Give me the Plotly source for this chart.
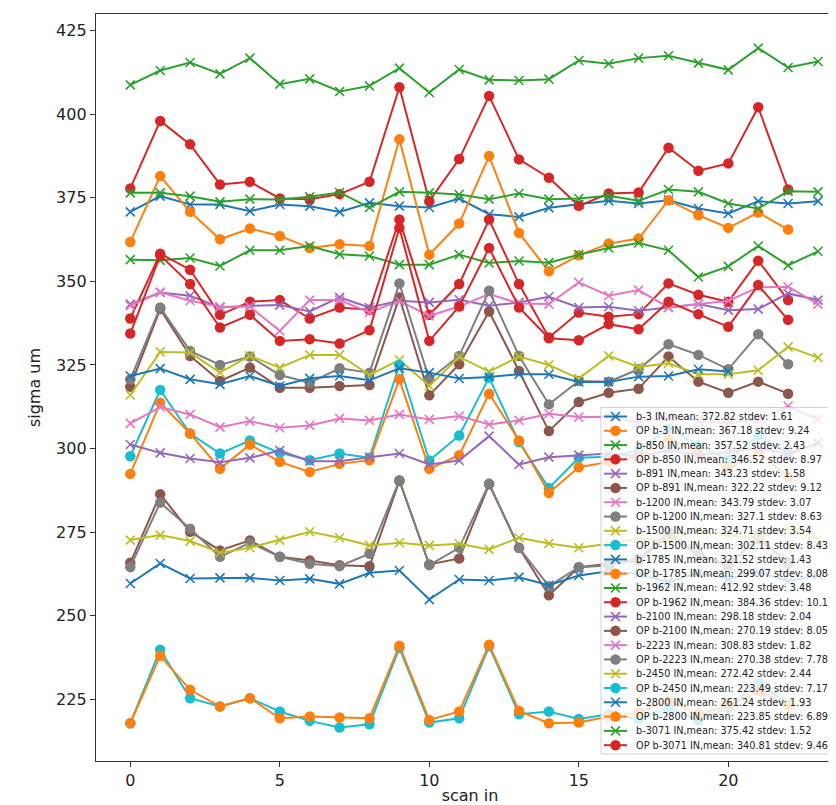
import plotly.graph_objects as go

# ---------------- data ----------------
x_tick_vals = [0, 5, 10, 15, 20]
y_tick_vals = [225, 250, 275, 300, 325, 350, 375, 400, 425]

b_3 = [370.8, 375.5, 373, 373, 371, 373, 372.5, 370.8, 373.5, 372.5, 372.1, 374.8,
       370.1, 369.3, 372, 373, 374.1, 373.3, 374.3, 371.8, 370.3, 374, 373.3, 374]
op_b_3 = [361.8, 381.5, 370.8, 362.6, 365.8, 363.6, 360, 361.1, 360.6, 392.5, 358, 367.3,
          387.5, 364.5, 353, 357.8, 361.3, 362.8, 374.3, 369.8, 366, 370.6, 365.5]
b_850 = [356.5, 356.3, 357, 354.6, 359.3, 359.3, 360.6, 358.1, 357.6, 355, 355, 358,
         355.5, 356.1, 355.6, 358, 360, 361.5, 359.3, 351.3, 354.5, 360.6, 354.8, 359]
op_b_850 = [338.9, 358.3, 353.5, 340, 343.9, 344.4, 338.9, 342.2, 341.5, 368.5, 340, 349.2,
            368.5, 349.2, 333.2, 340.7, 339.4, 340.2, 349.4, 346, 343.9, 356.2, 344.4]
b_891 = [343.2, 346.7, 345.7, 342.2, 342.7, 342.9, 341, 345.2, 342.2, 344.2, 343.7, 344.5,
         342.7, 343.7, 345.4, 342.2, 342.4, 341.2, 342.2, 343.2, 341.4, 341.7, 346.4, 344.4]
op_b_891 = [318.5, 341.7, 327.7, 320.2, 324.2, 318.2, 318.2, 318.7, 319, 345.2, 315.9, 325.2,
            341, 323.2, 305.2, 313.9, 316.7, 317.9, 327.5, 320, 316.7, 320, 316.4]
b_1200 = [342.7, 346.7, 344.2, 342.4, 342.4, 335.2, 344.4, 344.4, 340.7, 344.2, 339.7, 342.5,
          346.2, 343.4, 343.2, 349.7, 345.7, 347.4, 342.2, 343.2, 344.2, 348.2, 348.4, 343.2]
op_b_1200 = [320.7, 342.2, 329.2, 325, 327.5, 322, 319.7, 324, 322.7, 349.4, 320.7, 327.7,
             347.2, 327.7, 313.2, 320.2, 320, 323.7, 331.2, 328, 323.7, 334.2, 325.2]
b_1500 = [316, 328.9, 328.7, 322.7, 327.7, 324.2, 328, 328, 322, 326.5, 318.7, 327.4,
          323, 327.5, 325, 320.9, 327.7, 324.4, 325.5, 322.2, 322.2, 323.4, 330.4, 327.2]
op_b_1500 = [297.7, 317.5, 304.5, 298.5, 302.4, 298.7, 296.5, 298.5, 297.2, 325, 296.4, 303.9,
             321.2, 301.9, 288.2, 297.2, 297.5, 299.5, 306, 301, 296.5, 304, 298.7]
b_1785 = [321.7, 323.9, 320.7, 319.2, 321.7, 318.7, 321, 321.7, 320.4, 324, 322.7, 320.95,
          321.4, 322.2, 322.2, 319.9, 319.9, 321.5, 321.7, 323.7, 323]
op_b_1785 = [292.4, 313.7, 304.5, 293.9, 301.2, 296, 293, 295.4, 296.5, 320.7, 293.9, 298,
             316.4, 302.4, 286.7, 294.4, 296, 297.5, 303, 298.5, 294, 299, 291.5]
b_1962 = [408.8, 413.1, 415.5, 412.1, 416.8, 409, 410.6, 406.8, 408.5, 413.8, 406.5, 413.4,
          410.3, 410.1, 410.5, 416.1, 415.1, 416.8, 417.5, 415.3, 413.3, 419.8, 414, 415.8]
op_b_1962 = [377.8, 398, 391, 379, 379.8, 374.8, 374.6, 376.1, 379.8, 408.1, 374, 386.6,
             405.5, 386.5, 381, 372.6, 376.3, 376.6, 390, 383.1, 385.3, 402.1, 377.5]
b_2100 = [301.2, 298.7, 297, 295.9, 297.2, 299.4, 296.2, 296.2, 297.4, 298.5, 295.2, 296.4,
          303.7, 295.2, 297.4, 298, 298.5, 297.6, 299.5, 298, 298.9, 300.2, 298.3, 301.7]
op_b_2100 = [265.8, 286.3, 275.1, 269.5, 272.5, 267.6, 266.5, 265.1, 264.8, 290.3, 265.3, 267.1,
             289.3, 270.3, 256.1, 264.5, 265.5, 266.5, 274, 268, 265.3, 273, 266]
b_2223 = [307.5, 312.4, 310.2, 306.4, 308.2, 306.2, 306.9, 309, 308.4, 310.2, 308.7, 309.7,
          307.2, 308.4, 310.4, 309.4, 309.5, 307.8, 309.6, 308.2, 307.5, 308.7, 312.7, 308.7]
op_b_2223 = [264.5, 283.8, 276, 267.6, 271.8, 267.6, 265.5, 264.8, 268.5, 290.5, 265.1, 270.3,
             289.5, 270.3, 258.8, 264.5, 265, 267, 275, 268.5, 264.6, 274, 265.5]
b_2450 = [272.6, 274.1, 272.3, 268.8, 270.3, 272.6, 275.1, 273.3, 271, 271.8, 271, 271.5,
          269.8, 273.3, 271.6, 270.3, 271.5, 273, 272.5, 275.5, 274, 273.2, 276, 273]
op_b_2450 = [217.8, 239.8, 225.3, 222.8, 225.3, 221.3, 218.5, 216.5, 217.5, 240.3, 218, 219.3,
             240.8, 220.5, 221.3, 219.1, 220.5, 219, 222.5, 218.6, 222.3, 229.8, 223.5]
b_2800 = [259.6, 265.6, 261.1, 261.3, 261.3, 260.5, 261, 259.5, 262.8, 263.5, 254.8, 260.8,
          260.5, 261.5, 259.1, 262, 263.3, 262.5, 260, 262.8, 261, 263, 260.3, 262]
op_b_2800 = [217.8, 238, 227.8, 222.8, 225.3, 219.3, 219.8, 219.5, 219.3, 241, 218.8, 221.3,
             241.3, 221.5, 217.8, 218, 219.8, 221, 224.5, 220.5, 223, 227.5, 223]
b_3071 = [376.5, 376.5, 375.5, 373.8, 374.6, 374.5, 375.3, 376.6, 372.1, 376.8, 376.5, 376,
          374.6, 376.3, 374.6, 374.8, 375.6, 374.1, 377.5, 376.8, 373.3, 371.8, 377, 376.8]
op_b_3071 = [334.4, 357.8, 349.2, 336.2, 340, 332.2, 332.7, 331.4, 335.4, 366, 332.2, 342.5,
             360, 342.2, 333, 332.4, 337.2, 335.7, 343.9, 340.2, 336.4, 348.9, 338.5]

series_names = ["b-3 IN", "OP b-3 IN", "b-850 IN", "OP b-850 IN", "b-891 IN", "OP b-891 IN",
                "b-1200 IN", "OP b-1200 IN", "b-1500 IN", "OP b-1500 IN", "b-1785 IN", "OP b-1785 IN",
                "b-1962 IN", "OP b-1962 IN", "b-2100 IN", "OP b-2100 IN", "b-2223 IN", "OP b-2223 IN",
                "b-2450 IN", "OP b-2450 IN", "b-2800 IN", "OP b-2800 IN", "b-3071 IN", "OP b-3071 IN"]
series_values = [b_3, op_b_3, b_850, op_b_850, b_891, op_b_891, b_1200, op_b_1200,
                 b_1500, op_b_1500, b_1785, op_b_1785, b_1962, op_b_1962, b_2100, op_b_2100,
                 b_2223, op_b_2223, b_2450, op_b_2450, b_2800, op_b_2800, b_3071, op_b_3071]
series_means = ["372.82", "367.18", "357.52", "346.52", "343.23", "322.22", "343.79", "327.1",
                "324.71", "302.11", "321.52", "299.07", "412.92", "384.36", "298.18", "270.19",
                "308.83", "270.38", "272.42", "223.49", "261.24", "223.85", "375.42", "340.81"]
series_stdevs = ["1.61", "9.24", "2.43", "8.97", "1.58", "9.12", "3.07", "8.63",
                 "3.54", "8.43", "1.43", "8.08", "3.48", "10.17", "2.04", "8.05",
                 "1.82", "7.78", "2.44", "7.17", "1.93", "6.89", "1.52", "9.46"]

# ---------------- styling ----------------
TAB10 = ["#1f77b4", "#ff7f0e", "#2ca02c", "#d62728", "#9467bd",
         "#8c564b", "#e377c2", "#7f7f7f", "#bcbd22", "#17becf"]
FONT = "DejaVu Sans"
W, H = 836, 805
M_L, M_R, M_T, M_B = 88, 0, 6, 52
PLOT_W = W - M_L - M_R
PLOT_H = H - M_T - M_B
PX_PER_X = 29.9
X0_PX = 34.3  # pixel offset of x=0 from left edge of plot area
AX_FONT = 16


def marker_style(name, color):
    if name.startswith("OP"):
        return dict(symbol="circle", size=10.5, color=color, line=dict(width=0))
    return dict(symbol="x-thin", size=9, color=color, line=dict(width=1.6, color=color))


fig = go.Figure()

for k, (name, vals) in enumerate(zip(series_names, series_values)):
    color = TAB10[k % 10]
    fig.add_trace(go.Scatter(
        x=list(range(len(vals))), y=vals, mode="lines+markers",
        line=dict(color=color, width=2), marker=marker_style(name, color),
        name=name, showlegend=False, hoverinfo="x+y+name",
    ))

# ---------------- custom legend (matplotlib-like, drawn in pixel space) ----------------
LEG_LEFT = 505
LEG_TOP = 393.5
LEG_BOTTOM = 740
ROW0 = 402.5
ROW_H = 14.29
GLYPH_X0, GLYPH_X1 = 508, 531
TEXT_X = 538

fig.add_trace(go.Scatter(
    x=[LEG_LEFT, PLOT_W + 40, PLOT_W + 40, LEG_LEFT, LEG_LEFT],
    y=[LEG_TOP, LEG_TOP, LEG_BOTTOM, LEG_BOTTOM, LEG_TOP],
    mode="lines", fill="toself", fillcolor="rgba(255,255,255,0.8)",
    line=dict(color="#d0d0d0", width=1), xaxis="x2", yaxis="y2",
    showlegend=False, hoverinfo="skip",
))

for k, name in enumerate(series_names):
    color = TAB10[k % 10]
    yc = ROW0 + ROW_H * k
    fig.add_trace(go.Scatter(
        x=[GLYPH_X0, GLYPH_X1], y=[yc, yc], mode="lines",
        line=dict(color=color, width=2), xaxis="x2", yaxis="y2",
        showlegend=False, hoverinfo="skip",
    ))
    fig.add_trace(go.Scatter(
        x=[(GLYPH_X0 + GLYPH_X1) / 2], y=[yc], mode="markers",
        marker=marker_style(name, color), xaxis="x2", yaxis="y2",
        showlegend=False, hoverinfo="skip",
    ))
    fig.add_annotation(
        x=TEXT_X, y=yc, xref="x2", yref="y2", xanchor="left", yanchor="middle",
        text=f"{name},mean: {series_means[k]} stdev: {series_stdevs[k]}",
        showarrow=False, font=dict(family=FONT, size=9.7, color="#222"),
    )

x_lo = -X0_PX / PX_PER_X
x_hi = (PLOT_W - X0_PX) / PX_PER_X

fig.update_layout(
    width=W, height=H,
    margin=dict(l=M_L, r=M_R, t=M_T, b=M_B, pad=0),
    paper_bgcolor="white", plot_bgcolor="white",
    font=dict(family=FONT, size=AX_FONT, color="#222"),
    showlegend=False,
    xaxis=dict(
        range=[x_lo, x_hi], tickvals=x_tick_vals, ticks="outside", ticklen=5,
        tickwidth=1.2, tickcolor="#333", showline=True, linecolor="#333", linewidth=1.3,
        mirror=True, showgrid=False, zeroline=False,
        title=dict(text="scan in", standoff=0, font=dict(size=AX_FONT)),
        tickfont=dict(size=AX_FONT),
    ),
    yaxis=dict(
        range=[206.5, 430.0], tickvals=y_tick_vals, ticks="outside", ticklen=5,
        tickwidth=1.2, tickcolor="#333", showline=True, linecolor="#333", linewidth=1.3,
        showgrid=False, zeroline=False,
        title=dict(text="sigma um", standoff=11, font=dict(size=AX_FONT)),
        tickfont=dict(size=AX_FONT),
    ),
    xaxis2=dict(overlaying="x", range=[0, PLOT_W], visible=False, fixedrange=True),
    yaxis2=dict(overlaying="y", range=[PLOT_H, 0], visible=False, fixedrange=True),
)

fig.write_html("out.html")
